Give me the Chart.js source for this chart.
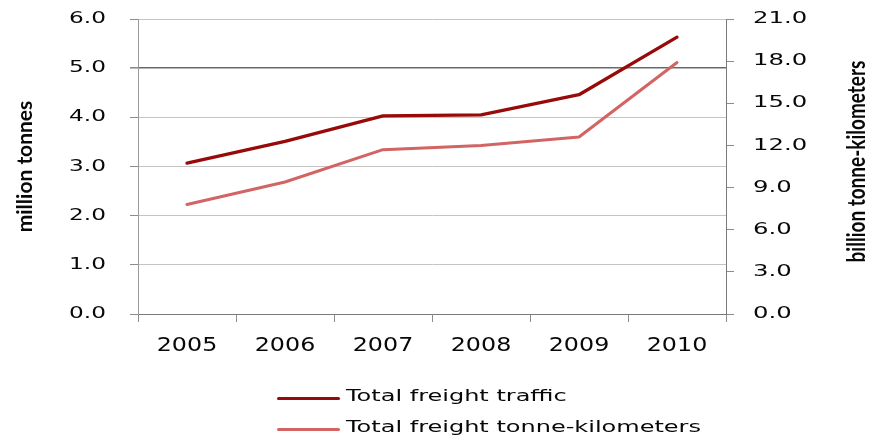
<!DOCTYPE html>
<html>
<head>
<meta charset="utf-8">
<script src="https://cdn.jsdelivr.net/npm/chart.js@4"></script>
<style>
  html, body { margin: 0; padding: 0; background: #ffffff; }
  #wrap { position: relative; width: 870px; height: 441px; overflow: hidden; }
  #chart { position: absolute; left: 0; top: 0; }
  .lg-row { position: absolute; left: 277px; height: 16px; }
  .lg-line { position: absolute; left: 0; top: 8.5px; width: 63px; height: 3.5px; border-radius: 1.5px; }
  .lg-text { position: absolute; left: 69px; top: 0; font: 16px "DejaVu Sans", sans-serif; line-height: 16px;
             color: #080808; white-space: nowrap; transform: scaleX(1.5); transform-origin: 0 50%; }
</style>
</head>
<body>
<div id="wrap">
  <canvas id="chart" width="870" height="441"></canvas>
  <div id="legend"></div>
</div>
<script>
// Rail freight, 2005-2010
const years = ['2005', '2006', '2007', '2008', '2009', '2010'];
const freightTraffic = [3.07, 3.51, 4.03, 4.05, 4.46, 5.63];   // million tonnes
const freightTonneKm = [7.8, 9.4, 11.7, 12.0, 12.6, 17.9];     // billion tonne-kilometers
const seriesLabels = ['Total freight traffic', 'Total freight tonne-kilometers'];
const seriesColors = ['#980a0a', '#d26464'];
const leftTitle = 'million tonnes';
const rightTitle = 'billion tonne-kilometers';
const leftRange = [0, 6, 1];
const rightRange = [0, 21, 3];

const TICK_FAMILY = '"DejaVu Sans", sans-serif';
const TITLE_FAMILY = 'Lato, "Open Sans", sans-serif';
const TEXT = '#080808';

// Tick labels use a horizontally expanded face; the widening factor
// depends on which axis is drawing (read from the text alignment).
const tickWidening = { center: 1.22, right: 1.45, left: 1.52 };

const expandedTicks = {
  id: 'expandedTicks',
  // tick labels sit on layer z = 1, i.e. after the datasets
  afterDatasetsDraw(chart) {
    const ctx = chart.ctx;
    const nativeFill = CanvasRenderingContext2D.prototype.fillText;
    ctx.fillText = function (text, x, y) {
      const k = tickWidening[this.textAlign] || 1;
      this.save();
      this.translate(x, y);
      this.scale(k, 1);
      nativeFill.call(this, text, 0, 0);
      this.restore();
    };
  },
  afterDraw(chart) {
    const ctx = chart.ctx;
    delete ctx.fillText;
    // right-hand axis title, reading bottom to top like the left one
    const area = chart.chartArea;
    ctx.save();
    ctx.font = `bold 19px ${TITLE_FAMILY}`;
    ctx.fillStyle = TEXT;
    ctx.textAlign = 'center';
    ctx.textBaseline = 'middle';
    ctx.translate(chart.width - 13, (area.top + area.bottom) / 2 - 5);
    ctx.rotate(-Math.PI / 2);
    ctx.scale(1, 1.25);
    ctx.fillText(rightTitle, 0, 0);
    ctx.restore();
  }
};

// fixed axis widths; no extra room above/below the value axes
function pinVertical(width) {
  return scale => {
    scale.width = width;
    scale.paddingTop = 0;
    scale.paddingBottom = 0;
  };
}

const chart = new Chart(document.getElementById('chart'), {
  type: 'line',
  data: {
    labels: years,
    datasets: [
      { label: seriesLabels[0], data: freightTraffic, yAxisID: 'y',
        borderColor: seriesColors[0], backgroundColor: seriesColors[0], borderWidth: 3.3 },
      { label: seriesLabels[1], data: freightTonneKm, yAxisID: 'y1',
        borderColor: seriesColors[1], backgroundColor: seriesColors[1], borderWidth: 3 }
    ]
  },
  options: {
    responsive: false,
    animation: false,
    devicePixelRatio: 1,
    layout: { padding: { top: 19, left: 0, right: 0, bottom: 0 } },
    elements: { point: { radius: 0, hoverRadius: 0 }, line: { tension: 0, borderCapStyle: 'round', borderJoinStyle: 'round' } },
    plugins: { legend: { display: false }, tooltip: { enabled: false } },
    scales: {
      x: {
        type: 'category',
        offset: true,
        grid: { display: true, offset: true, drawOnChartArea: false, drawTicks: true, tickLength: 8, color: '#8c8c8c' },
        border: { color: '#7a7a7a', width: 1 },
        ticks: { z: 1, color: TEXT, font: { family: TICK_FAMILY, size: 19.5 }, padding: 12, maxRotation: 0, autoSkip: false },
        afterFit(scale) { scale.height = 127; }
      },
      y: {
        position: 'left',
        min: leftRange[0], max: leftRange[1],
        grid: {
          color: c => (c.tick && c.tick.value === 5 ? '#6a6a6a' : '#c4c4c4'),
          lineWidth: c => (c.tick && c.tick.value === 5 ? 1.6 : 1),
          tickColor: '#8c8c8c', tickLength: 8
        },
        border: { color: '#9a9a9a', width: 1 },
        ticks: { z: 1, stepSize: leftRange[2], color: TEXT, font: { family: TICK_FAMILY, size: 16 }, padding: 24,
                 callback: v => Number(v).toFixed(1) },
        title: { display: true, text: leftTitle, color: TEXT,
                 font: { family: TITLE_FAMILY, size: 21, weight: 'bold', lineHeight: 1.2 }, padding: { top: 13, bottom: 0 } },
        afterFit: pinVertical(138)
      },
      y1: {
        position: 'right',
        min: rightRange[0], max: rightRange[1],
        grid: { drawOnChartArea: false, tickColor: '#8c8c8c', tickLength: 8 },
        border: { color: '#7a7a7a', width: 1 },
        ticks: { z: 1, stepSize: rightRange[2], color: TEXT, font: { family: TICK_FAMILY, size: 16 }, padding: 19,
                 callback: v => Number(v).toFixed(1) },
        title: { display: false, text: rightTitle },
        afterFit: pinVertical(144)
      }
    }
  },
  plugins: [expandedTicks]
});

// Legend rows built from the chart's datasets
const legend = document.getElementById('legend');
chart.data.datasets.forEach((ds, i) => {
  const row = document.createElement('div');
  row.className = 'lg-row';
  row.style.top = (388 + i * 31) + 'px';
  const line = document.createElement('div');
  line.className = 'lg-line';
  line.style.background = ds.borderColor;
  const text = document.createElement('span');
  text.className = 'lg-text';
  text.textContent = ds.label;
  row.appendChild(line);
  row.appendChild(text);
  legend.appendChild(row);
});
</script>
</body>
</html>
